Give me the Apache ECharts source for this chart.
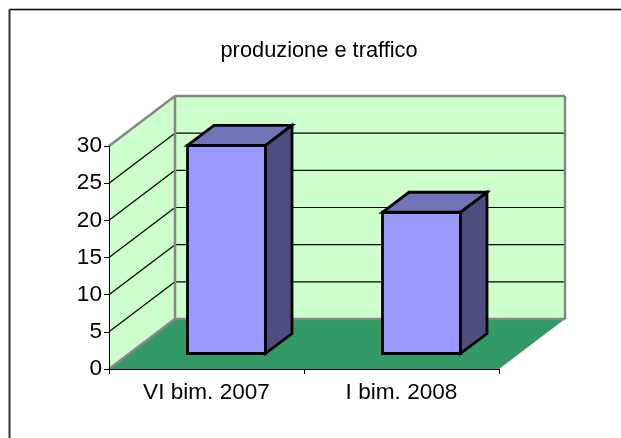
<!DOCTYPE html>
<html><head><meta charset="utf-8">
<style>html,body{margin:0;padding:0;background:#fff}#c{width:621px;height:438px}</style>
<script src="https://cdn.jsdelivr.net/npm/echarts@6/dist/echarts.min.js"></script>
</head><body><div id="c"></div>
<script>
var categories = ['VI bim. 2007', 'I bim. 2008'];
var values = [28, 19];
var yTicks = [0, 5, 10, 15, 20, 25, 30];
var titleText = 'produzione e traffico';

var DX = 66, DY = -50;       // full depth of the 3D box
var BDX = 20, BDY = -15.5;   // offset of bar front from the front plane
var BWX = 26.5, BWY = -20;   // bar depth
var BARW = 78;

var chart = echarts.init(document.getElementById('c'), null, {renderer: 'canvas'});
function poly(pts, fill, stroke, lw) {
  return {type: 'polygon', shape: {points: pts}, style: {fill: fill, stroke: stroke || null, lineWidth: lw || 0, lineJoin: 'miter'}};
}
function line(a, b, color, w) {
  return {type: 'line', shape: {x1: a[0], y1: a[1], x2: b[0], y2: b[1]}, style: {stroke: color, lineWidth: w}};
}
function renderBox(params, api) {
  var cs = params.coord ? params.coord : params.coordSys;
  var L = cs.x, R = cs.x + cs.width, B = cs.y + cs.height, T = cs.y;
  var kids = [];
  kids.push(poly([[L, B], [L + DX, B + DY], [L + DX, T + DY], [L, T]], '#ccffcc'));
  kids.push(poly([[L + DX, B + DY], [R + DX, B + DY], [R + DX, T + DY], [L + DX, T + DY]], '#ccffcc'));
  kids.push(poly([[L, B], [R, B], [R + DX, B + DY], [L + DX, B + DY]], '#339966'));
  yTicks.forEach(function (v) {
    var y = api.coord([0, v])[1];
    if (v > 0 && v < yTicks[yTicks.length - 1]) {
      kids.push(line([L, y], [L + DX, y + DY], '#000', 1.2));
      kids.push(line([L + DX, y + DY], [R + DX, y + DY], '#000', 1.2));
    }
  });
  var g = '#868686';
  kids.push(line([L, T], [L + DX, T + DY], g, 2.5));
  kids.push(line([L + DX, T + DY], [R + DX, T + DY], g, 2.5));
  kids.push(line([R + DX, T + DY], [R + DX, B + DY], g, 2.5));
  kids.push(line([L + DX, T + DY], [L + DX, B + DY], g, 2.5));
  kids.push(line([L + DX, B + DY], [R + DX, B + DY], g, 2.5));
  kids.push(line([L, B], [L + DX, B + DY], g, 2.5));
  return {type: 'group', children: kids};
}
function renderBar(params, api) {
  var c = api.coord([api.value(0), api.value(1)]);
  var base = api.coord([api.value(0), 0]);
  var xl = c[0] + BDX - BARW / 2, xr = xl + BARW;
  var yt = c[1] + BDY, yb = base[1] + BDY;
  var lw = 2.8;
  return {type: 'group', children: [
    poly([[xl, yb], [xr, yb], [xr, yt], [xl, yt]], '#9999ff', '#000', lw),
    poly([[xl, yt], [xr, yt], [xr + BWX, yt + BWY], [xl + BWX, yt + BWY]], '#7373b9', '#000', lw),
    poly([[xr, yb], [xr + BWX, yb + BWY], [xr + BWX, yt + BWY], [xr, yt]], '#4d4d80', '#000', lw)
  ]};
}
chart.setOption({
  animation: false,
  backgroundColor: '#fff',
  title: {text: titleText, left: 215.5, top: 35, textStyle: {fontFamily: 'Liberation Sans', fontSize: 21.8, fontWeight: 'normal', color: '#000'}},
  grid: {left: 109, top: 146, width: 390, height: 223, containLabel: false},
  xAxis: {type: 'category', data: categories, z: 5,
    axisLine: {lineStyle: {color: '#000', width: 1}},
    axisTick: {show: true, alignWithLabel: false, length: 5, lineStyle: {color: '#000'}},
    axisLabel: {fontFamily: 'Liberation Sans', fontSize: 22.6, color: '#000', margin: 12}},
  yAxis: {type: 'value', min: 0, max: 30, interval: 5, z: 5,
    splitLine: {show: false},
    axisLine: {show: true, lineStyle: {color: '#000', width: 1}},
    axisTick: {show: true, length: 5, lineStyle: {color: '#000'}},
    axisLabel: {fontFamily: 'Liberation Sans', fontSize: 22.6, color: '#000', margin: 7}},
  graphic: [
    {type: 'line', shape: {x1: 9.5, y1: 9.5, x2: 621, y2: 9.5}, style: {stroke: '#000', lineWidth: 1.5}, silent: true},
    {type: 'line', shape: {x1: 9.5, y1: 9.5, x2: 9.5, y2: 438}, style: {stroke: '#333', lineWidth: 2}, silent: true}
  ],
  series: [
    {type: 'custom', name: 'walls', coordinateSystem: 'cartesian2d', clip: false, z: 1, renderItem: renderBox, data: [[0, 0]], silent: true},
    {type: 'custom', name: 'produzione', coordinateSystem: 'cartesian2d', clip: false, z: 2, renderItem: renderBar,
      encode: {x: 0, y: 1}, data: categories.map(function (c, i) { return [i, values[i]]; })}
  ]
});
</script></body></html>
